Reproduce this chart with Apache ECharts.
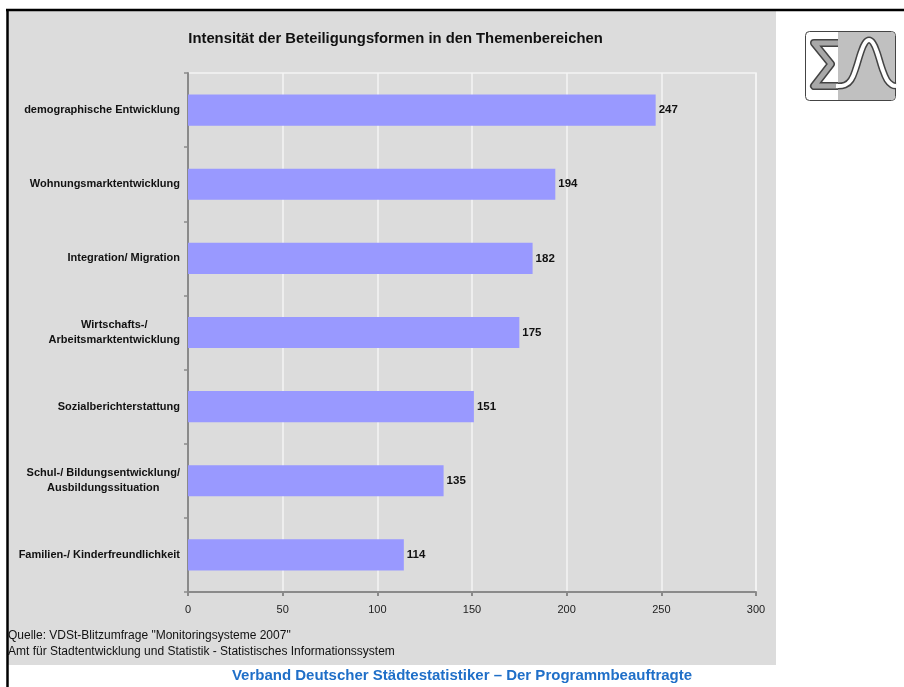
<!DOCTYPE html>
<html><head><meta charset="utf-8">
<script src="https://cdn.jsdelivr.net/npm/echarts@6/dist/echarts.min.js"></script>
<style>html,body{margin:0;padding:0;background:#fff}#c{width:904px;height:687px}</style>
</head><body><div id="c"></div>
<script>
const categories = [
  "demographische Entwicklung",
  "Wohnungsmarktentwicklung",
  "Integration/ Migration",
  "Wirtschafts-/\nArbeitsmarktentwicklung",
  "Sozialberichterstattung",
  "Schul-/ Bildungsentwicklung/\nAusbildungssituation",
  "Familien-/ Kinderfreundlichkeit"
];
const values = [247, 194, 182, 175, 151, 135, 114];
const xTicks = [0, 50, 100, 150, 200, 250, 300];
const titleText = "Intensität der Beteiligungsformen in den Themenbereichen";
const sourceLines = ['Quelle: VDSt-Blitzumfrage "Monitoringsysteme 2007"', "Amt für Stadtentwicklung und Statistik - Statistisches Informationssystem"];
const footerText = "Verband Deutscher Städtestatistiker – Der Programmbeauftragte";

const chart = echarts.init(document.getElementById('c'), null, {renderer: 'canvas'});
const FONT = "'Liberation Sans', Arial, sans-serif";
const sigmaPts = [[838, 43], [814, 43], [831, 64], [814, 86], [838, 86]];
const gaussPts = [[836, 86], [845, 85], [851, 80], [856, 68], [861, 52], [865, 43], [869, 40], [873, 43], [877, 52], [882, 68], [887, 80], [892, 85], [896, 86]];
chart.setOption({
  backgroundColor: '#fff',
  animation: false,
  title: {
    text: titleText, left: 390.5, top: 26, textAlign: 'center',
    textStyle: {fontFamily: FONT, fontSize: 14.8, fontWeight: 'bold', color: '#111'}
  },
  grid: {left: 188, right: 148, top: 73, bottom: 95, show: true, borderColor: '#f4f4f4', borderWidth: 1.5, backgroundColor: 'transparent'},
  xAxis: {
    type: 'value', min: xTicks[0], max: xTicks[xTicks.length - 1], interval: 50,
    axisLine: {show: true, lineStyle: {color: '#8a8a8a', width: 2}},
    axisTick: {show: true, length: 4, lineStyle: {color: '#8a8a8a', width: 2}},
    axisLabel: {fontFamily: FONT, fontSize: 11, color: '#222', margin: 12},
    splitLine: {show: true, lineStyle: {color: '#f4f4f4', width: 1.5}}
  },
  yAxis: {
    type: 'category', data: categories, inverse: true,
    axisLine: {show: true, lineStyle: {color: '#8a8a8a', width: 2}},
    axisTick: {show: true, length: 4, lineStyle: {color: '#8a8a8a', width: 1.5}},
    axisLabel: {
      margin: 8,
      formatter: v => v.split('\n').map(s => '{c|' + s + '}').join('\n'),
      rich: {c: {align: 'center', fontFamily: FONT, fontSize: 11, fontWeight: 'bold', color: '#111', lineHeight: 15}}
    },
    splitLine: {show: false}
  },
  series: [{
    type: 'bar', data: values, barCategoryGap: '58%',
    itemStyle: {color: '#9999ff'},
    label: {show: true, position: 'right', distance: 3, fontFamily: FONT, fontSize: 11.5, fontWeight: 'bold', color: '#111'}
  }],
  graphic: [
    {type: 'rect', z: -10, silent: true, shape: {x: 8, y: 11, width: 768, height: 654}, style: {fill: '#dcdcdc'}},
    {type: 'line', z: 100, shape: {x1: 6, y1: 10, x2: 904, y2: 10}, style: {stroke: '#000', lineWidth: 2.5}},
    {type: 'line', z: 100, shape: {x1: 7.5, y1: 9, x2: 7.5, y2: 687}, style: {stroke: '#000', lineWidth: 2.5}},
    {type: 'text', x: 8, y: 636, style: {text: sourceLines[0], font: '12px ' + FONT, fill: '#111', textVerticalAlign: 'middle'}},
    {type: 'text', x: 8, y: 652, style: {text: sourceLines[1], font: '12px ' + FONT, fill: '#111', textVerticalAlign: 'middle'}},
    {type: 'text', x: 462, y: 676, style: {text: footerText, font: 'bold 15px ' + FONT, fill: '#1f6fc8', textAlign: 'center', textVerticalAlign: 'middle'}},
    // logo
    {type: 'rect', z: 5, shape: {x: 805.5, y: 31.5, width: 90, height: 69, r: 4}, style: {fill: '#fff', stroke: '#444', lineWidth: 1}},
    {type: 'rect', z: 5, shape: {x: 838, y: 32, width: 57, height: 68, r: [0, 4, 4, 0]}, style: {fill: '#c0c0c0'}},
    {type: 'polyline', z: 6, shape: {points: sigmaPts}, style: {stroke: '#444', lineWidth: 8, fill: null, lineJoin: 'round'}},
    {type: 'polyline', z: 7, shape: {points: sigmaPts}, style: {stroke: '#a8a8a8', lineWidth: 5, fill: null, lineJoin: 'round'}},
    {type: 'polyline', z: 6, shape: {points: gaussPts, smooth: 0.4}, style: {stroke: '#444', lineWidth: 7, fill: null}},
    {type: 'polyline', z: 7, shape: {points: gaussPts, smooth: 0.4}, style: {stroke: '#fff', lineWidth: 4, fill: null}}
  ]
});
</script></body></html>
